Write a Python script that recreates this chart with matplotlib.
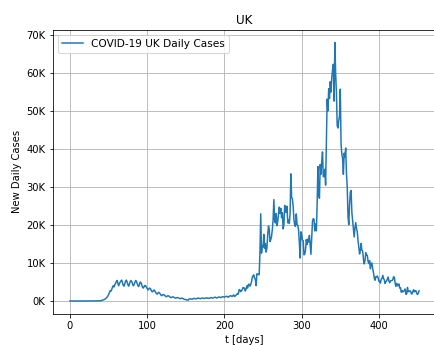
import numpy as np
import matplotlib
matplotlib.use("Agg")
import matplotlib.pyplot as plt
from matplotlib.ticker import FuncFormatter

# UK daily new cases, one value per day starting 31 Jan 2020
# first cases, Jan 31 - Mar 11 2020
cases_early = [2, 0, 0, 0, 0, 0, 1, 0, 0, 1, 4, 0, 1, 0, 0, 0, 0, 0, 0, 0,
               0, 0, 0, 4, 0, 4, 0, 2, 5, 3,
               12, 4, 11, 34, 30, 48, 43, 67, 48, 61, 50]
# first wave
cases_wave1 = [150, 200, 300, 350, 450, 600, 750, 1000, 1300, 1700,
               2200, 2700, 2600, 3000, 3600, 4000, 3700, 4300, 4600, 5100,
               5400, 4700, 4000, 4500, 5000, 5300, 5500, 4800, 4100, 3900,
               4600, 5200, 5500, 5000, 4300, 3900, 4500, 5100, 5400, 5100,
               4500, 4000, 4300, 4900, 5400, 5200, 4600, 4000, 3800, 4400,
               5000, 4800, 4200, 3600, 3400, 3800, 4100, 4000, 3600, 3300,
               2900, 3100, 3400, 3300, 2900, 2500, 2400, 2700, 2900, 2600,
               2300, 1900, 1800, 2100, 2300, 2100, 1800, 1500, 1400, 1600]
# summer lull
cases_summer = [1700, 1600, 1400, 1200, 1100, 1300, 1400, 1300, 1100, 1000,
                900, 1000, 1100, 1050, 900, 800, 750, 850, 900, 850,
                750, 650, 600, 700, 750, 650, 550, 450, 400, 350,
                300, 250, 200, 500, 550, 600, 500, 450, 550, 650,
                700, 600, 550, 600, 700, 800, 700, 650, 600, 700,
                750, 800, 700, 650, 700, 800, 850, 750, 700, 650,
                750, 850, 900, 800, 750, 850, 950, 1000, 900, 800,
                850, 1000, 1050, 1000, 900, 950, 1100, 1150, 1050, 1000,
                1100, 1200, 1250, 1100, 1000, 1200, 1300, 1400, 1300, 1200,
                1400, 1600, 1200]
# autumn, Sep 1 - Nov 30
cases_autumn = [1295, 1508, 1735, 1940, 1813, 2988, 2948, 2460, 2659, 2919,
                3539, 3497, 3330, 2621, 3105, 3991, 3395, 4322, 4422, 3899,
                4368, 4926, 6178, 6634, 6874, 6042, 5693, 4044, 7143, 7108,
                6914, 6968, 12872, 22961, 12594, 14542, 14162, 17540, 13864, 15166,
                12872, 13972, 17234, 19724, 18980, 15650, 16171, 16982, 18804, 21331,
                26688, 21242, 20530, 23012, 19790, 20890, 22885, 24701, 23065, 24405,
                21915, 23254, 18950, 20018, 25177, 24141, 23287, 24957, 20572, 21350,
                20412, 22950, 33470, 27301, 26860, 24962, 21363, 20051, 19609, 22915,
                20252, 19875, 18662, 15450, 11299, 18213, 17555, 16022, 15871, 12155,
                12330]
# winter, Dec 1 - Jan 31
cases_winter = [13430, 16170, 14879, 16298, 15539, 17272, 14718, 12282, 16578, 20964,
                21672, 21502, 18447, 20263, 18450, 25161, 35383, 28507, 27052, 35928,
                33364, 36804, 39237, 32725, 32725, 34693, 30501, 41385, 53135, 50023,
                55892,
                53285, 57725, 54990, 58784, 60916, 62322, 52618, 68053, 59937, 54940,
                46169, 45533, 47525, 48682, 55761, 41346, 38598, 37535, 33355, 38905,
                37892, 40261, 33552, 30004, 22195, 20089, 25308, 28680, 29079, 23275,
                21088]
# spring 2021, Feb 1 - Apr 27
cases_spring = [18607, 16840, 19202, 20634, 19114, 18262, 15845, 14104, 12364, 13494,
                15144, 13308, 13113, 10972, 9765, 10625, 12718, 12057, 12027, 10406,
                9834, 10641, 8489, 9938, 9985, 8523, 7434, 6035,
                5455, 6391, 6385, 6573, 6040, 5177, 5177, 4712, 5766, 5926,
                6753, 5926, 5534, 4618, 5089, 5294, 5758, 6303, 5260, 4802,
                5312, 5342, 5379, 5605, 6397, 6187, 4715, 3862, 4654, 4052,
                4040,
                4479, 3402, 3423, 2297, 2762, 2379, 2589, 2763, 3150, 1730,
                1882, 3568, 2472, 2491, 2672, 2596, 1882, 1882, 2524, 2963,
                2396, 2729, 2678, 2026, 1712, 2064, 2685]

cases = np.array(cases_early + cases_wave1 + cases_summer + cases_autumn
                 + cases_winter + cases_spring)
t = np.arange(len(cases))

fig = plt.figure(figsize=(434 / 72, 345 / 72), dpi=72)
ax = fig.add_axes([0.121, 0.0901, 0.8848, 0.8243])
ax.plot(t, cases, color="tab:blue", label="COVID-19 UK Daily Cases")
ax.yaxis.set_major_formatter(FuncFormatter(lambda v, p: f"{int(v / 1000)}K"))
ax.set_xlabel("t [days]")
ax.set_ylabel("New Daily Cases")
ax.set_title("UK")
ax.grid(True)
# the frame runs past the right edge of the figure
ax.spines["right"].set_visible(False)
ax.legend(loc="upper left", fontsize=10.5)

fig.savefig("out.png", dpi=72)
